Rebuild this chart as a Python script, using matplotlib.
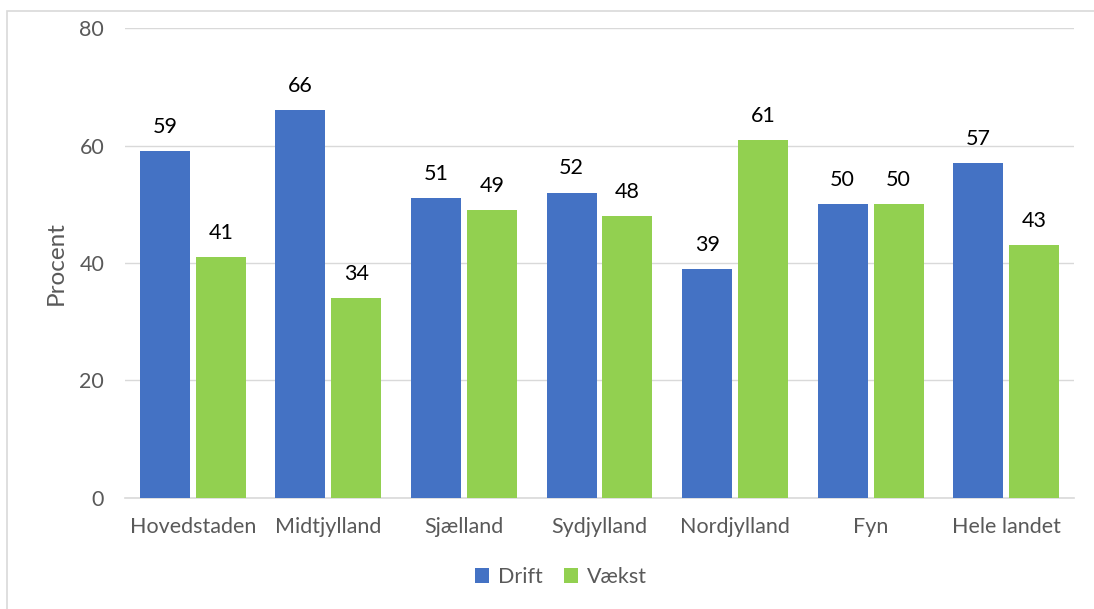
import numpy as np
import matplotlib.pyplot as plt
from matplotlib.patches import Rectangle

plt.rcParams['font.family'] = ['Lato', 'DejaVu Sans']

regions = ['Hovedstaden', 'Midtjylland', 'Sjælland', 'Sydjylland', 'Nordjylland', 'Fyn', 'Hele landet']
drift = [59, 66, 51, 52, 39, 50, 57]
vaekst = [41, 34, 49, 48, 61, 50, 43]

blue = '#4472C4'
green = '#92D050'
grey_txt = '#595959'
fs = 15.5

fig = plt.figure(figsize=(10.94, 6.09), dpi=100)
ax = fig.add_axes([0.1143, 0.1823, 0.8674, 0.7717])

# outer chart border (only left/top visible in the original crop)
fig.patches.append(Rectangle((7 / 1094, -0.1), 1.2, (609 - 11) / 609 + 0.1,
                             transform=fig.transFigure, fill=False,
                             edgecolor='#D9D9D9', linewidth=1.2))

x = np.arange(len(regions))
w = 0.369
off = 0.206
b1 = ax.bar(x - off, drift, w, color=blue, label='Drift', zorder=3)
b2 = ax.bar(x + off, vaekst, w, color=green, label='Vækst', zorder=3)

for bars in (b1, b2):
    for r in bars:
        ax.text(r.get_x() + r.get_width() / 2, r.get_height() + 4.1, f'{r.get_height():.0f}',
                ha='center', va='center', fontsize=fs, color='black')

ax.set_xlim(-0.5, len(regions) - 0.5)
ax.set_ylim(0, 80)
ax.set_yticks([0, 20, 40, 60, 80])
ax.set_xticks(x)
ax.set_xticklabels(regions)
ax.tick_params(axis='both', length=0, labelsize=fs, labelcolor=grey_txt)
ax.tick_params(axis='y', pad=15)
ax.tick_params(axis='x', pad=14)
ax.grid(axis='y', color='#D9D9D9', linewidth=1, zorder=0)
for s in ['top', 'right', 'left']:
    ax.spines[s].set_visible(False)
ax.spines['bottom'].set_color('#D9D9D9')
ax.spines['bottom'].set_linewidth(1.2)
ax.set_ylabel('Procent', fontsize=17.5, color=grey_txt, labelpad=9)

fig.legend(loc='center', bbox_to_anchor=(0.513, (609 - 577) / 609), ncol=2, frameon=False,
           fontsize=fs, labelcolor=grey_txt, handlelength=0.65, handleheight=0.65,
           handletextpad=0.4, columnspacing=1.0)

fig.savefig('out.png', dpi=100)
